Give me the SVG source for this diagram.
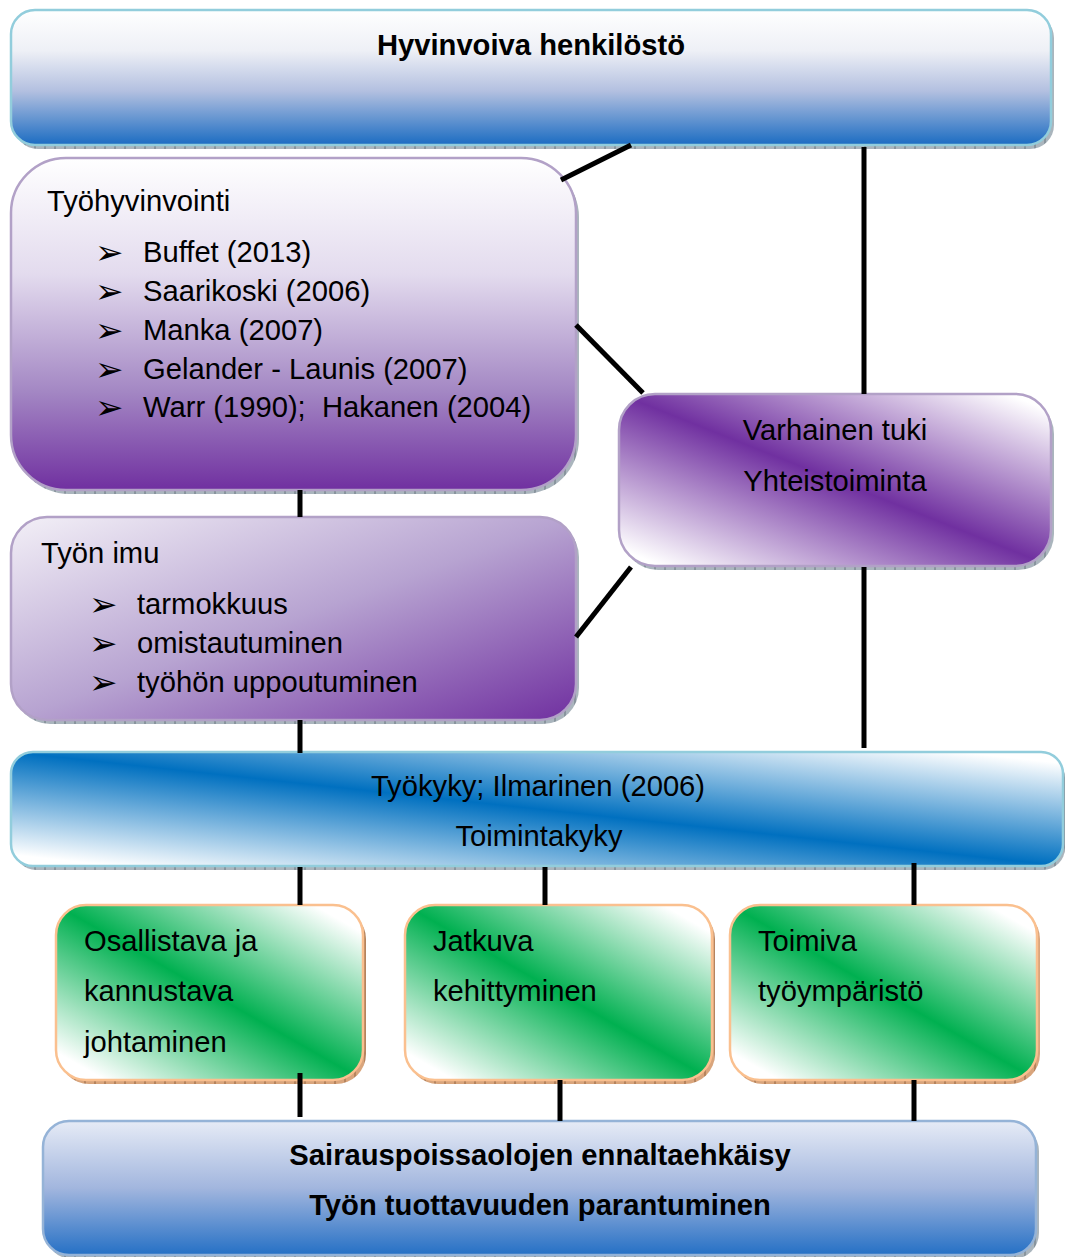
<svg xmlns="http://www.w3.org/2000/svg" width="1066" height="1257" viewBox="0 0 1066 1257">
  <defs>
    <style>
      .t { font-family: "Liberation Sans", Arial, sans-serif; font-size: 29.2px; fill: #000; }
      .b { font-weight: bold; }
      .mid { text-anchor: middle; }
      .arr { font-family: "DejaVu Sans", sans-serif; font-size: 34px; fill: #000; }
      .conn { stroke: #000; stroke-width: 5; fill: none; stroke-linecap: butt; }
      .blueEdge { stroke: #92cddc; stroke-width: 2.5; }
      .purpleEdge { stroke: #b2a1c7; stroke-width: 2.5; }
      .orangeEdge { stroke: #fac08f; stroke-width: 2.5; }
      .steelEdge { stroke: #95b3d7; stroke-width: 2.5; }
    </style>
    <!-- hatched drop shadows -->
    <pattern id="hatchGrey" width="10" height="6" patternUnits="userSpaceOnUse">
      <rect width="10" height="6" fill="#aab5bd"/>
      <line x1="5" y1="0" x2="5" y2="6" stroke="#5f6c76" stroke-width="0.9"/>
    </pattern>
    <pattern id="hatchTan" width="10" height="6" patternUnits="userSpaceOnUse">
      <rect width="10" height="6" fill="#d9a57c"/>
      <line x1="5" y1="0" x2="5" y2="6" stroke="#8a5a38" stroke-width="0.9"/>
    </pattern>
    <!-- fills -->
    <linearGradient id="gTop" x1="0" y1="0" x2="0" y2="1">
      <stop offset="0" stop-color="#ffffff"/>
      <stop offset="0.3" stop-color="#eef0f6"/>
      <stop offset="0.6" stop-color="#b3c0e0"/>
      <stop offset="1" stop-color="#1b6cc2"/>
    </linearGradient>
    <linearGradient id="gBottom" x1="0" y1="0" x2="0" y2="1">
      <stop offset="0" stop-color="#e6ebf6"/>
      <stop offset="0.5" stop-color="#a2b6de"/>
      <stop offset="1" stop-color="#2570c5"/>
    </linearGradient>
    <linearGradient id="gPurpleV" x1="0" y1="0" x2="0" y2="1">
      <stop offset="0" stop-color="#ffffff"/>
      <stop offset="0.35" stop-color="#e3dbee"/>
      <stop offset="0.7" stop-color="#a488c4"/>
      <stop offset="1" stop-color="#7030a0"/>
    </linearGradient>
    <linearGradient id="gPurpleD" x1="0" y1="0" x2="1" y2="1">
      <stop offset="0" stop-color="#f3f0f7"/>
      <stop offset="0.5" stop-color="#b7a3d1"/>
      <stop offset="1" stop-color="#7030a0"/>
    </linearGradient>
    <linearGradient id="gPurpleBand" x1="0" y1="1" x2="1" y2="0">
      <stop offset="0.05" stop-color="#ffffff"/>
      <stop offset="0.5" stop-color="#7030a0"/>
      <stop offset="0.95" stop-color="#ffffff"/>
    </linearGradient>
    <linearGradient id="gBlueBand" x1="0" y1="1" x2="1" y2="0">
      <stop offset="0.05" stop-color="#ffffff"/>
      <stop offset="0.5" stop-color="#0070c0"/>
      <stop offset="0.95" stop-color="#ffffff"/>
    </linearGradient>
    <linearGradient id="gGreenBand" x1="0" y1="1" x2="1" y2="0">
      <stop offset="0.08" stop-color="#ffffff"/>
      <stop offset="0.5" stop-color="#00b050"/>
      <stop offset="0.92" stop-color="#ffffff"/>
    </linearGradient>
  </defs>

  <rect width="1066" height="1257" fill="#ffffff"/>

  <!-- top goal -->
  <g id="node-hyvinvoiva">
    <rect x="14" y="14" width="1040" height="135" rx="24" fill="url(#hatchGrey)"/>
    <rect x="11" y="10" width="1040" height="135" rx="24" fill="url(#gTop)" class="blueEdge"/>
    <text x="531" y="55" class="t b mid">Hyvinvoiva henkilöstö</text>
  </g>

  <!-- wellbeing at work -->
  <g id="node-tyohyvinvointi">
    <rect x="14" y="162" width="565" height="332" rx="55" fill="url(#hatchGrey)"/>
    <rect x="11" y="158" width="565" height="332" rx="55" fill="url(#gPurpleV)" class="purpleEdge"/>
    <text x="47" y="211" class="t">Työhyvinvointi</text>
    <text x="95" y="264" class="arr">➢</text>
    <text x="143" y="262" class="t">Buffet (2013)</text>
    <text x="95" y="303" class="arr">➢</text>
    <text x="143" y="301" class="t">Saarikoski (2006)</text>
    <text x="95" y="342" class="arr">➢</text>
    <text x="143" y="340" class="t">Manka (2007)</text>
    <text x="95" y="381" class="arr">➢</text>
    <text x="143" y="379" class="t">Gelander - Launis (2007)</text>
    <text x="95" y="419" class="arr">➢</text>
    <text x="143" y="417" class="t" xml:space="preserve">Warr (1990);  Hakanen (2004)</text>
  </g>

  <!-- work engagement -->
  <g id="node-tyon-imu">
    <rect x="14" y="521" width="565" height="203" rx="36" fill="url(#hatchGrey)"/>
    <rect x="11" y="517" width="565" height="203" rx="36" fill="url(#gPurpleD)" class="purpleEdge"/>
    <text x="41" y="563" class="t">Työn imu</text>
    <text x="89" y="616" class="arr">➢</text>
    <text x="137" y="614" class="t">tarmokkuus</text>
    <text x="89" y="655" class="arr">➢</text>
    <text x="137" y="653" class="t">omistautuminen</text>
    <text x="89" y="694" class="arr">➢</text>
    <text x="137" y="692" class="t">työhön uppoutuminen</text>
  </g>

  <!-- early support -->
  <g id="node-varhainen-tuki">
    <rect x="622" y="398" width="432" height="172" rx="36" fill="url(#hatchGrey)"/>
    <rect x="619" y="394" width="432" height="172" rx="36" fill="url(#gPurpleBand)" class="purpleEdge"/>
    <text x="835" y="440" class="t mid">Varhainen tuki</text>
    <text x="835" y="491" class="t mid">Yhteistoiminta</text>
  </g>

  <!-- work ability -->
  <g id="node-tyokyky">
    <rect x="14" y="756" width="1051" height="114" rx="22" fill="url(#hatchGrey)"/>
    <rect x="11" y="752" width="1052" height="114" rx="22" fill="url(#gBlueBand)" class="blueEdge"/>
    <text x="538" y="796" class="t mid">Työkyky; Ilmarinen (2006)</text>
    <text x="539" y="846" class="t mid">Toimintakyky</text>
  </g>

  <!-- three practices -->
  <g id="node-johtaminen">
    <rect x="59" y="909" width="307" height="175" rx="30" fill="url(#hatchTan)"/>
    <rect x="56" y="905" width="307" height="175" rx="30" fill="url(#gGreenBand)" class="orangeEdge"/>
    <text x="84" y="951" class="t">Osallistava ja</text>
    <text x="84" y="1001" class="t">kannustava</text>
    <text x="84" y="1052" class="t">johtaminen</text>
  </g>
  <g id="node-kehittyminen">
    <rect x="408" y="909" width="307" height="175" rx="30" fill="url(#hatchTan)"/>
    <rect x="405" y="905" width="307" height="175" rx="30" fill="url(#gGreenBand)" class="orangeEdge"/>
    <text x="433" y="951" class="t">Jatkuva</text>
    <text x="433" y="1001" class="t">kehittyminen</text>
  </g>
  <g id="node-tyoymparisto">
    <rect x="733" y="909" width="307" height="175" rx="30" fill="url(#hatchTan)"/>
    <rect x="730" y="905" width="307" height="175" rx="30" fill="url(#gGreenBand)" class="orangeEdge"/>
    <text x="758" y="951" class="t">Toimiva</text>
    <text x="758" y="1001" class="t">työympäristö</text>
  </g>

  <!-- outcomes -->
  <g id="node-tulokset">
    <rect x="46" y="1125" width="993" height="134" rx="26" fill="url(#hatchGrey)"/>
    <rect x="43" y="1121" width="993" height="134" rx="26" fill="url(#gBottom)" class="steelEdge"/>
    <text x="540" y="1165" class="t b mid">Sairauspoissaolojen ennaltaehkäisy</text>
    <text x="540" y="1215" class="t b mid">Työn tuottavuuden parantuminen</text>
  </g>

  <!-- connectors -->
  <g id="connectors">
    <line x1="631" y1="145" x2="561" y2="180" class="conn"/>
    <line x1="864" y1="147" x2="864" y2="394" class="conn"/>
    <line x1="576" y1="325" x2="643" y2="393" class="conn"/>
    <line x1="300" y1="490" x2="300" y2="517" class="conn"/>
    <line x1="631" y1="567" x2="576" y2="637" class="conn"/>
    <line x1="864" y1="567" x2="864" y2="748" class="conn"/>
    <line x1="300" y1="720" x2="300" y2="753" class="conn"/>
    <line x1="300" y1="867" x2="300" y2="905" class="conn"/>
    <line x1="545" y1="867" x2="545" y2="905" class="conn"/>
    <line x1="914" y1="863" x2="914" y2="905" class="conn"/>
    <line x1="300" y1="1073" x2="300" y2="1117" class="conn"/>
    <line x1="560" y1="1080" x2="560" y2="1121" class="conn"/>
    <line x1="914" y1="1080" x2="914" y2="1121" class="conn"/>
  </g>
</svg>
